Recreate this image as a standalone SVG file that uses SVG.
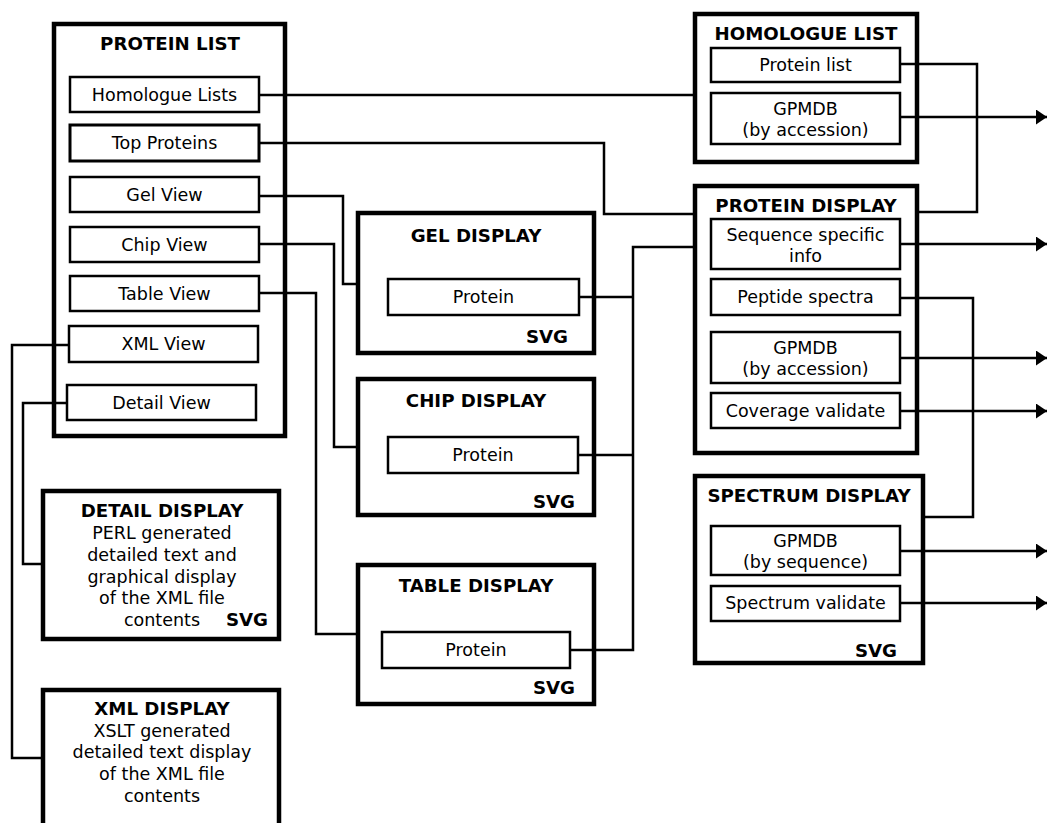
<svg xmlns="http://www.w3.org/2000/svg" width="1047" height="823" viewBox="0 0 1047 823">
<style>
.outer{fill:none;stroke:#000;stroke-width:4.5}
.inner{fill:none;stroke:#000;stroke-width:2.5}
.t{font-family:"DejaVu Sans",Verdana,sans-serif;font-size:17.5px;fill:#000;text-anchor:middle}
.h{font-family:"DejaVu Sans",Verdana,sans-serif;font-size:18.2px;font-weight:bold;fill:#000;text-anchor:middle}
.s{font-family:"DejaVu Sans",Verdana,sans-serif;font-size:18.2px;font-weight:bold;fill:#000;text-anchor:end}
.c{fill:none;stroke:#000;stroke-width:2.5}
</style>
<defs>
<marker id="arr" viewBox="0 0 11 15" refX="11" refY="7.5" markerWidth="11" markerHeight="15" markerUnits="userSpaceOnUse" orient="auto">
<path d="M0,0 L11,7.5 L0,15 Z" fill="#000"/>
</marker>
</defs>
<rect width="1047" height="823" fill="#fff"/>

<g id="protein-list">
<rect class="outer" x="54" y="24" width="231" height="412"/>
<text class="h" x="170" y="50">PROTEIN LIST</text>
<rect class="inner" x="70" y="77" width="189" height="35"/>
<text class="t" x="164.5" y="101">Homologue Lists</text>
<rect class="inner" x="70" y="125" width="189" height="36" style="stroke-width:3"/>
<text class="t" x="164.5" y="149">Top Proteins</text>
<rect class="inner" x="70" y="177" width="189" height="35"/>
<text class="t" x="164.5" y="201">Gel View</text>
<rect class="inner" x="70" y="227" width="189" height="35"/>
<text class="t" x="164.5" y="251">Chip View</text>
<rect class="inner" x="70" y="276" width="189" height="35"/>
<text class="t" x="164.5" y="300">Table View</text>
<rect class="inner" x="69" y="326" width="189" height="36"/>
<text class="t" x="163.5" y="350">XML View</text>
<rect class="inner" x="67" y="385" width="189" height="35"/>
<text class="t" x="161.5" y="409">Detail View</text>
</g>

<g id="gel-display">
<rect class="outer" x="358" y="213" width="236" height="140"/>
<text class="h" x="476" y="242">GEL DISPLAY</text>
<rect class="inner" x="388" y="279" width="191" height="36"/>
<text class="t" x="483.5" y="303">Protein</text>
<text class="s" x="568" y="343">SVG</text>
</g>

<g id="chip-display">
<rect class="outer" x="358" y="379" width="236" height="136"/>
<text class="h" x="476" y="407">CHIP DISPLAY</text>
<rect class="inner" x="388" y="437" width="190" height="36"/>
<text class="t" x="483" y="461">Protein</text>
<text class="s" x="575" y="508">SVG</text>
</g>

<g id="table-display">
<rect class="outer" x="358" y="565" width="236" height="139"/>
<text class="h" x="476" y="592">TABLE DISPLAY</text>
<rect class="inner" x="382" y="632" width="188" height="36"/>
<text class="t" x="476" y="656">Protein</text>
<text class="s" x="575" y="694">SVG</text>
</g>

<g id="detail-display">
<rect class="outer" x="43" y="491" width="236" height="148"/>
<text class="h" x="162" y="517">DETAIL DISPLAY</text>
<text class="t" x="162" y="539">PERL generated</text>
<text class="t" x="162" y="561">detailed text and</text>
<text class="t" x="162" y="583">graphical display</text>
<text class="t" x="162" y="604">of the XML file</text>
<text class="t" x="162" y="626">contents</text>
<text class="s" x="268" y="626">SVG</text>
</g>

<g id="xml-display">
<rect class="outer" x="43" y="690" width="236" height="150"/>
<text class="h" x="162" y="715">XML DISPLAY</text>
<text class="t" x="162" y="737">XSLT generated</text>
<text class="t" x="162" y="758">detailed text display</text>
<text class="t" x="162" y="780">of the XML file</text>
<text class="t" x="162" y="802">contents</text>
</g>

<g id="homologue-list">
<rect class="outer" x="695" y="14" width="222" height="148"/>
<text class="h" x="806" y="40">HOMOLOGUE LIST</text>
<rect class="inner" x="711" y="48" width="189" height="34"/>
<text class="t" x="805.5" y="71">Protein list</text>
<rect class="inner" x="711" y="93" width="189" height="51"/>
<text class="t" x="805.5" y="115">GPMDB</text>
<text class="t" x="805.5" y="136">(by accession)</text>
</g>

<g id="protein-display">
<rect class="outer" x="695" y="186" width="222" height="267"/>
<text class="h" x="806" y="212">PROTEIN DISPLAY</text>
<rect class="inner" x="711" y="219" width="189" height="50"/>
<text class="t" x="805.5" y="241">Sequence specific</text>
<text class="t" x="805.5" y="262">info</text>
<rect class="inner" x="711" y="279" width="189" height="36"/>
<text class="t" x="805.5" y="303">Peptide spectra</text>
<rect class="inner" x="711" y="332" width="189" height="51"/>
<text class="t" x="805.5" y="354">GPMDB</text>
<text class="t" x="805.5" y="375">(by accession)</text>
<rect class="inner" x="711" y="393" width="189" height="35"/>
<text class="t" x="805.5" y="417">Coverage validate</text>
</g>

<g id="spectrum-display">
<rect class="outer" x="695" y="476" width="228" height="187"/>
<text class="h" x="809" y="502">SPECTRUM DISPLAY</text>
<rect class="inner" x="711" y="526" width="189" height="49"/>
<text class="t" x="805.5" y="547">GPMDB</text>
<text class="t" x="805.5" y="568">(by sequence)</text>
<rect class="inner" x="711" y="586" width="189" height="35"/>
<text class="t" x="805.5" y="609">Spectrum validate</text>
<text class="s" x="897" y="657">SVG</text>
</g>

<g id="connectors">
<polyline class="c" points="259,95 695,95"/>
<polyline class="c" points="259,143 604,143 604,214 695,214"/>
<polyline class="c" points="259,196 343,196 343,284 358,284"/>
<polyline class="c" points="259,244 334,244 334,447 358,447"/>
<polyline class="c" points="259,293 316,293 316,634 358,634"/>
<polyline class="c" points="69,345 12,345 12,758 43,758"/>
<polyline class="c" points="67,403 23,403 23,564 43,564"/>
<polyline class="c" points="579,297 633,297"/>
<polyline class="c" points="578,455 633,455"/>
<polyline class="c" points="570,650 633,650 633,247 695,247"/>
<polyline class="c" points="900,64 977,64 977,212 917,212"/>
<polyline class="c" points="900,298 973,298 973,517 923,517"/>
<line class="c" x1="900" y1="117" x2="1047" y2="117" marker-end="url(#arr)"/>
<line class="c" x1="900" y1="244" x2="1047" y2="244" marker-end="url(#arr)"/>
<line class="c" x1="900" y1="358" x2="1047" y2="358" marker-end="url(#arr)"/>
<line class="c" x1="900" y1="411" x2="1047" y2="411" marker-end="url(#arr)"/>
<line class="c" x1="900" y1="551" x2="1047" y2="551" marker-end="url(#arr)"/>
<line class="c" x1="900" y1="603" x2="1047" y2="603" marker-end="url(#arr)"/>
</g>
</svg>
